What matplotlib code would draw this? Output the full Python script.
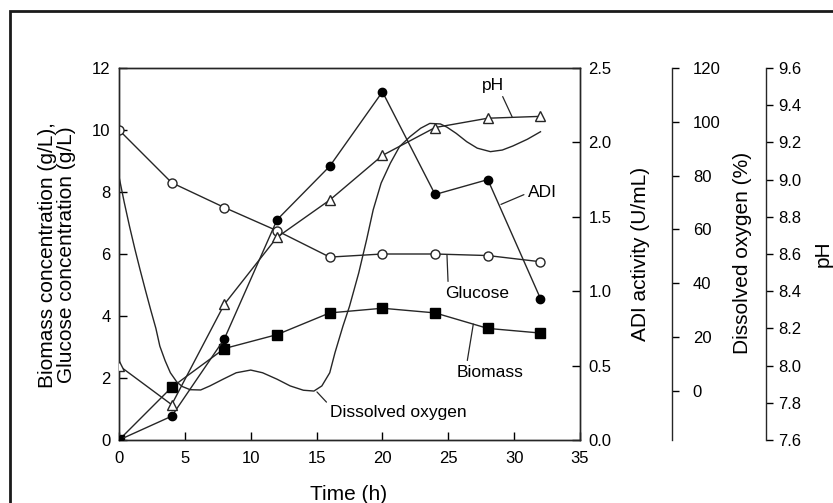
import numpy as np
import matplotlib.pyplot as plt
from matplotlib.patches import Rectangle

plt.rcParams['font.family'] = ['Liberation Sans', 'DejaVu Sans']

# sampling times (h)
time = [0, 4, 8, 12, 16, 20, 24, 28, 32]
glucose = [10.0, 8.3, 7.5, 6.75, 5.9, 6.0, 6.0, 5.95, 5.75]      # g/L
biomass = [0.0, 1.7, 2.95, 3.4, 4.1, 4.25, 4.1, 3.6, 3.45]       # g/L
adi = [0.0, 0.16, 0.68, 1.48, 1.84, 2.34, 1.65, 1.75, 0.95]      # U/mL
ph = [8.0, 7.79, 8.33, 8.69, 8.89, 9.13, 9.28, 9.33, 9.34]

# dissolved oxygen trace (%)
do_time = [0, 0.4, 0.8, 1.2, 1.6, 2.0, 2.4, 2.8, 3.1, 3.5, 3.9, 4.4, 4.8, 5.4,
           6.2, 6.9, 7.9, 8.9, 10.0, 10.9, 12.0, 13.0, 14.0, 14.8, 15.4, 16.0,
           16.4, 17.0, 17.5, 18.2, 18.8, 19.3, 19.9, 20.6, 21.3, 22.1, 22.9,
           23.6, 24.4, 24.9, 25.6, 26.4, 27.2, 28.2, 29.1, 29.9, 31.0, 32.0]
do_value = [79.6, 70.0, 61.1, 52.8, 45.0, 37.5, 30.2, 23.2, 16.6, 11.2, 6.7, 3.2,
            1.6, 0.4, 0.3, 1.8, 4.3, 6.7, 7.7, 6.7, 4.3, 1.8, 0.2, -0.1, 1.8, 6.7,
            14.2, 24.0, 31.4, 43.8, 56.2, 67.3, 77.2, 84.6, 90.8, 94.5, 97.6,
            99.4, 99.2, 98.0, 95.7, 92.6, 90.2, 88.9, 89.5, 91.0, 93.5, 96.3]

W, H = 833, 503
lc = '#262626'


def fx(px):
    return px / W


def fy(py):
    return 1 - py / H


fig = plt.figure(figsize=(W / 100, H / 100), dpi=100)
ax = fig.add_axes([fx(119), fy(440), fx(580) - fx(119), fy(68) - fy(440)])

# outer frame (cut off on the right and bottom)
fig.add_artist(Rectangle((fx(10), -0.2), 1.5, fy(11) + 0.2, fill=False,
                         lw=2, ec='#1a1a1a', transform=fig.transFigure))

ax.plot(time, glucose, '-o', color=lc, lw=1, ms=6.5, mfc='white', mec=lc, mew=1, zorder=3)
ax.plot(time, biomass, '-s', color=lc, lw=1, ms=7, mfc='black', mec='black', zorder=3)
ax.set_xlim(0, 35)
ax.set_ylim(0, 12)
ax.set_xticks(range(0, 36, 5))
ax.set_yticks(range(0, 13, 2))
ax.tick_params(direction='in', length=6, width=1, labelsize=12, pad=6,
               right=False, top=False)
ax.tick_params(axis='x', pad=8)
for s in ax.spines.values():
    s.set_linewidth(1)
    s.set_color(lc)

# ADI activity
ax2 = ax.twinx()
ax2.plot(time, adi, '-o', color=lc, lw=1, ms=6, mfc='black', mec='black', zorder=3)
ax2.set_ylim(0, 2.5)
ax2.set_yticks([0, 0.5, 1.0, 1.5, 2.0, 2.5])
ax2.set_yticklabels(['0.0', '0.5', '1.0', '1.5', '2.0', '2.5'])
ax2.tick_params(direction='in', length=6, width=1, labelsize=12, pad=6)
for s in ax2.spines.values():
    s.set_linewidth(1)
    s.set_color(lc)

# dissolved oxygen
ax3 = ax.twinx()
ax3.spines['right'].set_position(('axes', (672 - 119) / 461))
for k in ['left', 'top', 'bottom']:
    ax3.spines[k].set_visible(False)
ax3.spines['right'].set_linewidth(1)
ax3.spines['right'].set_color(lc)
ax3.plot(do_time, do_value, '-', color=lc, lw=1)
ax3.set_ylim(-18.3, 120)
ax3.set_yticks(range(0, 121, 20))
ax3.tick_params(direction='out', length=5, width=1, labelsize=12, pad=10)

# pH
ax4 = ax.twinx()
ax4.spines['right'].set_position(('axes', (766 - 119) / 461))
for k in ['left', 'top', 'bottom']:
    ax4.spines[k].set_visible(False)
ax4.spines['right'].set_linewidth(1)
ax4.spines['right'].set_color(lc)
ax4.plot(time, ph, '-^', color=lc, lw=1, ms=7.5, mfc='white', mec=lc, mew=1, zorder=3)
ax4.set_ylim(7.6, 9.6)
ph_ticks = [7.6, 7.8, 8.0, 8.2, 8.4, 8.6, 8.8, 9.0, 9.2, 9.4, 9.6]
ax4.set_yticks(ph_ticks)
ax4.set_yticklabels([f'{v:.1f}' for v in ph_ticks])
ax4.tick_params(direction='out', length=5, width=1, labelsize=12, pad=4)

# axis titles
fs = 15
fig.text(fx(48), fy(255), 'Biomass concentration (g/L),', rotation=90,
         ha='center', va='center', fontsize=fs)
fig.text(fx(67), fy(255), 'Glucose concentration (g/L)', rotation=90,
         ha='center', va='center', fontsize=fs)
fig.text(fx(349), fy(495), 'Time (h)', ha='center', va='center', fontsize=fs)
fig.text(fx(640), fy(254), 'ADI activity (U/mL)', rotation=90,
         ha='center', va='center', fontsize=fs)
fig.text(fx(742), fy(253), 'Dissolved oxygen (%)', rotation=90,
         ha='center', va='center', fontsize=fs)
fig.text(fx(823), fy(254), 'pH', rotation=90, ha='center', va='center', fontsize=fs)

# curve labels with leader lines
af = 12.5
lead = dict(arrowstyle='-', color=lc, lw=0.9, shrinkA=1, shrinkB=0)
ax.annotate('pH', xy=(29.85, 10.42), xytext=(28.4, 11.45), fontsize=af,
            ha='center', va='center',
            arrowprops=dict(lead, relpos=(0.85, 0.0)))
ax.annotate('ADI', xy=(29.0, 7.6), xytext=(32.15, 7.97), fontsize=af,
            ha='center', va='center',
            arrowprops=dict(lead, relpos=(0.0, 0.5)))
ax.annotate('Glucose', xy=(24.9, 5.97), xytext=(27.18, 4.74), fontsize=af,
            ha='center', va='center',
            arrowprops=dict(lead, relpos=(0.05, 1.0)))
ax.annotate('Biomass', xy=(26.9, 3.74), xytext=(28.17, 2.19), fontsize=af,
            ha='center', va='center',
            arrowprops=dict(lead, relpos=(0.15, 1.0)))
ax.annotate('Dissolved oxygen', xy=(15.03, 1.55), xytext=(21.22, 0.9), fontsize=af,
            ha='center', va='center',
            arrowprops=dict(lead, relpos=(0.0, 0.9)))

fig.savefig('out.png', dpi=100)
